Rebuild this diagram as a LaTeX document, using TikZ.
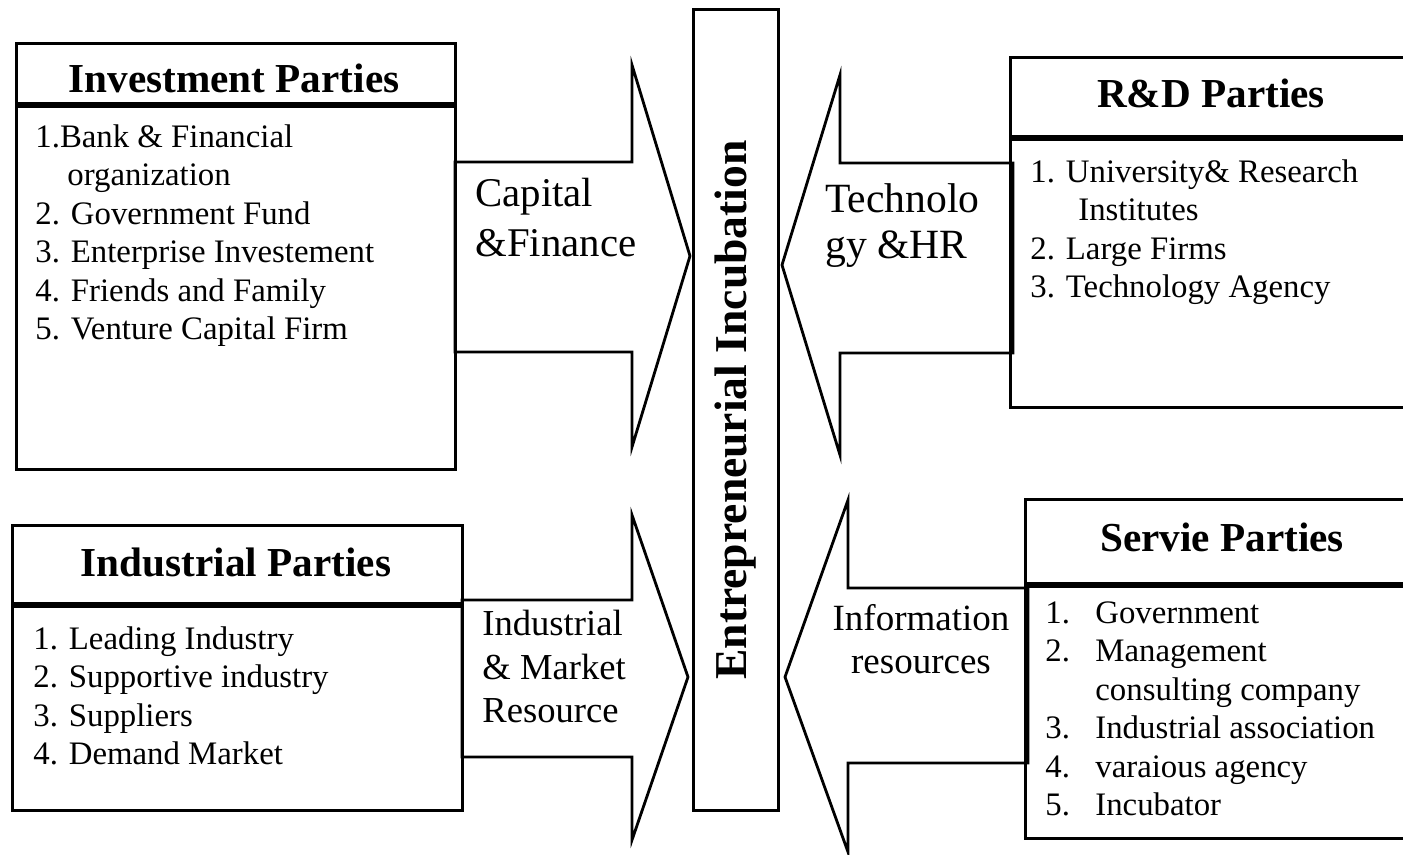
\documentclass[tikz,border=0pt]{standalone}
\usepackage{fontspec}
\setmainfont{Liberation Serif}

\begin{document}
\begin{tikzpicture}[x=0.5pt,y=-0.5pt,
  boxline/.style={line width=1.5pt},
  divline/.style={line width=2.8pt},
  flowarrow/.style={line width=1.4pt,line join=miter},
  partytitle/.style={font=\fontsize{20.6}{24}\selectfont\bfseries,inner sep=0pt},
  itemlist/.style={font=\fontsize{16.4}{19.25}\selectfont,align=left,anchor=north west,inner sep=0pt},
  flowlabel/.style={align=left,anchor=north west,inner sep=0pt}]

\useasboundingbox (0,0) rectangle (1403,855);
\clip (0,0) rectangle (1403,855);

% Central bar
\node[draw,boxline,rotate=90,minimum width=400pt,minimum height=42.5pt,
  font=\fontsize{22.8}{26}\selectfont\bfseries] (incub) at (735.5,410) {Entrepreneurial Incubation};

% --- Investment Parties ---
\draw[boxline] (16,44) rectangle (455,470);
\draw[divline] (16,105) -- (455,105);
\node[partytitle] (invtitle) at (234,78) {Investment Parties};
\node[itemlist] (invitems) at (35,124) {1.Bank \& Financial\\\hspace*{16pt}organization\\2. Government Fund\\3. Enterprise Investement\\4. Friends and Family\\5. Venture Capital Firm};

% Capital arrow
\draw[flowarrow] (455,162) -- (632,162) -- (632,65) -- (690,256) -- (632,447) -- (632,352) -- (455,352) -- cycle;
\node[flowlabel,font=\fontsize{20.4}{25}\selectfont] (capital) at (475,178) {Capital\\\&Finance};

% --- R&D Parties ---
\draw[boxline] (1010,58) rectangle (1420,408);
\draw[divline] (1010,138) -- (1420,138);
\node[partytitle] (rdtitle) at (1211,93) {R\&D Parties};
\node[itemlist] (rditems) at (1030,159) {1. University\& Research\\\hspace*{24pt}Institutes\\2. Large Firms\\3. Technology Agency};

% Technology arrow
\draw[flowarrow] (1013,163) -- (840,163) -- (840,75) -- (782,265) -- (840,455) -- (840,353) -- (1013,353) -- cycle;
\node[flowlabel,font=\fontsize{20.8}{23}\selectfont] (techhr) at (825,183) {Technolo\\gy \&HR};

% --- Industrial Parties ---
\draw[boxline] (12,525) rectangle (462,810);
\draw[divline] (12,605) -- (462,605);
\node[partytitle] (indtitle) at (236,562) {Industrial Parties};
\node[itemlist] (inditems) at (33,626) {1. Leading Industry\\2. Supportive industry\\3. Suppliers\\4. Demand Market};

% Industrial arrow
\draw[flowarrow] (462,600) -- (632,600) -- (632,515) -- (688,677) -- (632,840) -- (632,757) -- (462,757) -- cycle;
\node[flowlabel,font=\fontsize{18.3}{21.75}\selectfont] (indmarket) at (482,610) {Industrial\\\& Market\\Resource};

% --- Servie Parties ---
\draw[boxline] (1025,500) rectangle (1420,838);
\draw[divline] (1025,585) -- (1420,585);
\node[partytitle] (servtitle) at (1222,537) {Servie Parties};
\node[itemlist] (servitems) at (1045,601) {\makebox[25pt][l]{1.}Government\\\makebox[25pt][l]{2.}Management\\\hspace*{25pt}consulting company\\\makebox[25pt][l]{3.}Industrial association\\\makebox[25pt][l]{4.}varaious agency\\\makebox[25pt][l]{5.}Incubator};

% Information arrow
\draw[flowarrow] (1028,588) -- (848,588) -- (848,500) -- (785,677) -- (848,852) -- (848,763) -- (1028,763) -- cycle;
\node[flowlabel,align=center,anchor=north,font=\fontsize{18.5}{21.5}\selectfont] (info) at (921,604) {Information\\resources};

\end{tikzpicture}
\end{document}
